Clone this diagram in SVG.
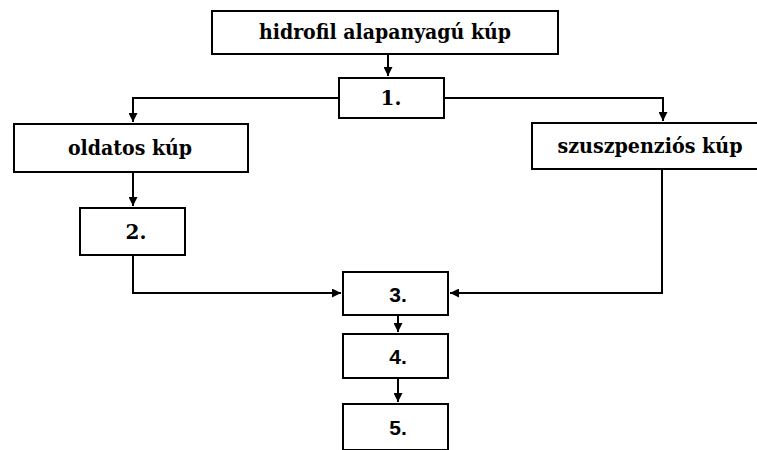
<svg xmlns="http://www.w3.org/2000/svg" width="757" height="450" viewBox="0 0 757 450">
<defs>
<marker id="ah" viewBox="0 0 10 10" refX="10" refY="5" markerWidth="4.5" markerHeight="4.5" orient="auto" markerUnits="strokeWidth">
<path d="M0,0 L10,5 L0,10 z" fill="#000"/>
</marker>
<style>
.box{fill:#fff;stroke:#000;stroke-width:2}
.t{font-family:"DejaVu Serif","Liberation Serif",serif;font-weight:bold;font-size:20px;text-anchor:middle;fill:#000}
.n{font-family:"Liberation Sans",Arial,sans-serif;font-weight:bold;font-size:21px;text-anchor:middle;fill:#000}
.c{fill:none;stroke:#000;stroke-width:2}
</style>
</defs>
<rect width="757" height="450" fill="#fff"/>
<g id="connectors">
<path class="c" d="M388,54 V76" marker-end="url(#ah)"/>
<path class="c" d="M339,98 H133 V122" marker-end="url(#ah)"/>
<path class="c" d="M444,98 H663 V121" marker-end="url(#ah)"/>
<path class="c" d="M133,172 V206" marker-end="url(#ah)"/>
<path class="c" d="M133,255 V293 H341" marker-end="url(#ah)"/>
<path class="c" d="M662,169 V293 H450" marker-end="url(#ah)"/>
<path class="c" d="M398,315 V332" marker-end="url(#ah)"/>
<path class="c" d="M398,378 V402" marker-end="url(#ah)"/>
</g>
<g id="n-top"><rect class="box" x="212" y="11" width="346" height="43"/><text class="t" x="385" y="39" textLength="252" lengthAdjust="spacingAndGlyphs">hidrofil alapanyagú kúp</text></g>
<g id="n1"><rect class="box" x="339" y="78" width="105" height="40"/><text class="t" x="391" y="105">1.</text></g>
<g id="n-oldatos"><rect class="box" x="14" y="124" width="234" height="48"/><text class="t" x="130" y="155" textLength="124" lengthAdjust="spacingAndGlyphs">oldatos kúp</text></g>
<g id="n-szusz"><rect class="box" x="532" y="123" width="230" height="46"/><text class="t" x="650" y="153" textLength="185" lengthAdjust="spacingAndGlyphs">szuszpenziós kúp</text></g>
<g id="n2"><rect class="box" x="80" y="208" width="105" height="47"/><text class="t" x="136" y="239">2.</text></g>
<g id="n3"><rect class="box" x="343" y="272" width="105" height="43"/><text class="n" x="398" y="302">3.</text></g>
<g id="n4"><rect class="box" x="343" y="334" width="105" height="44"/><text class="n" x="398" y="364">4.</text></g>
<g id="n5"><rect class="box" x="343" y="404" width="105" height="46"/><text class="n" x="398" y="435">5.</text></g>
</svg>
